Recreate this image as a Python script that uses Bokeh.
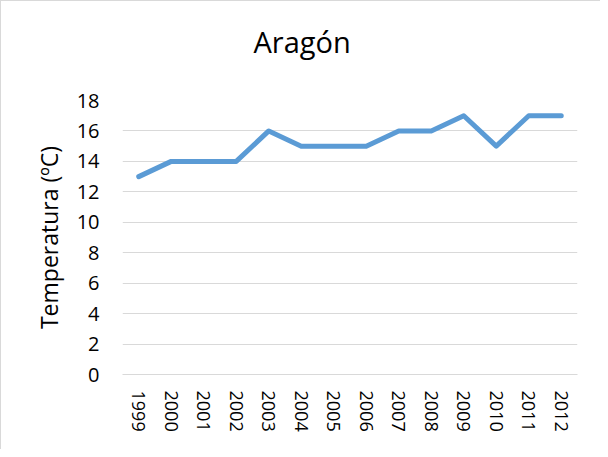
from bokeh.plotting import figure
from bokeh.models import FactorRange, Range1d, FixedTicker, ColumnDataSource, Title
from bokeh.embed import file_html
from bokeh.resources import INLINE

years = ["1999", "2000", "2001", "2002", "2003", "2004", "2005", "2006",
         "2007", "2008", "2009", "2010", "2011", "2012"]
temps = [13, 14, 14, 14, 16, 15, 15, 15, 16, 16, 17, 15, 17, 17]
y_ticks = [0, 2, 4, 6, 8, 10, 12, 14, 16, 18]
title_text = "Aragón"
y_label = "Temperatura (ºC)"

FONT = "Open Sans"

source = ColumnDataSource(data=dict(year=years, temp=temps))

p = figure(width=600, height=449, output_backend="svg", toolbar_location=None,
           x_range=FactorRange(*years, range_padding=0),
           y_range=Range1d(0, 18),
           min_border_left=121, min_border_right=24,
           min_border_top=99, min_border_bottom=76)

p.styles = {"border-left": "1px solid #d9d9d9", "border-top": "1px solid #d9d9d9"}
p.outline_line_color = None
p.background_fill_color = "white"
p.border_fill_color = "white"

p.line("year", "temp", source=source, line_color="#5B9BD5", line_width=5,
       line_join="round", line_cap="round")

# spacer between plot frame and chart title
p.add_layout(Title(text=" ", text_font_size="1px", standoff=36), "above")

# title
p.title.text = title_text
p.title.text_font = FONT
p.title.text_font_size = "29px"
p.title.text_font_style = "normal"
p.title.text_color = "#000000"
p.title.align = "left"
p.title.offset = 131
p.title.standoff = 2

# y axis
p.yaxis.ticker = FixedTicker(ticks=y_ticks)
p.yaxis.axis_line_color = None
p.yaxis.major_tick_line_color = None
p.yaxis.minor_tick_line_color = None
p.yaxis.major_tick_out = 0
p.yaxis.major_label_standoff = 23
p.yaxis.major_label_text_font = FONT
p.yaxis.major_label_text_font_size = "20px"
p.yaxis.major_label_text_color = "#000000"
p.yaxis.axis_label = y_label
p.yaxis.axis_label_text_font = FONT
p.yaxis.axis_label_text_font_size = "23px"
p.yaxis.axis_label_text_font_style = "normal"
p.yaxis.axis_label_text_color = "#000000"
p.yaxis.axis_label_standoff = 9

# x axis
p.xaxis.axis_line_color = "#d9d9d9"
p.xaxis.axis_line_width = 1
p.xaxis.major_tick_line_color = None
p.xaxis.minor_tick_line_color = None
p.xaxis.major_tick_out = 0
p.xaxis.major_label_orientation = "vertical"
p.xaxis.major_label_standoff = 16
p.xaxis.major_label_text_font = FONT
p.xaxis.major_label_text_font_size = "18px"
p.xaxis.major_label_text_color = "#000000"
p.xaxis.group_text_font_size = "0px"

# grid
p.xgrid.grid_line_color = None
p.ygrid.grid_line_color = "#d9d9d9"
p.ygrid.grid_line_width = 1

open("out.html", "w").write(file_html(p, INLINE))
